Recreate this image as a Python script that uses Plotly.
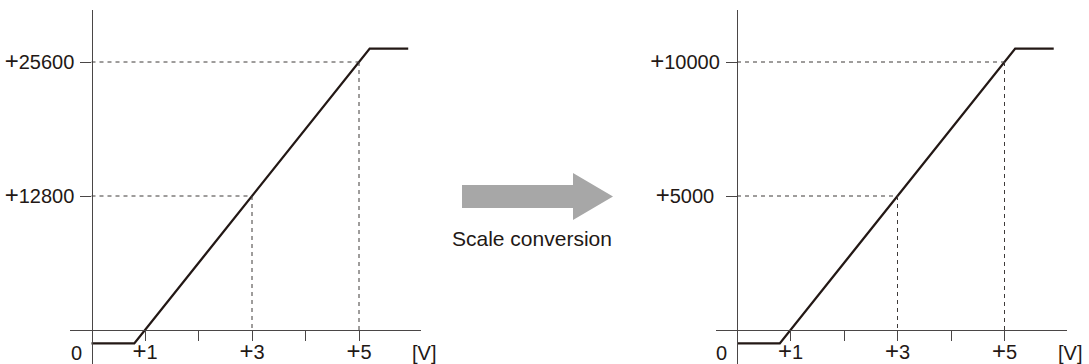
import plotly.graph_objects as go

# ---------------- data ----------------
volts_in = [0, 0.8, 5.2, 5.92]            # input voltage breakpoints [V]
digital_left = [-1280, -1280, 26880, 26880]  # before scale conversion
digital_right = [-500, -500, 10500, 10500]   # after scale conversion

x_tick_vals = [1, 2, 3, 4, 5]
x_tick_text = ["+1", "", "+3", "", "+5"]

left_ref_vals = [12800, 25600]
left_ref_text = ["+12800", "+25600"]
right_ref_vals = [5000, 10000]
right_ref_text = ["+5000\u00a0", "+10000"]
ref_volts = [3, 5]

# ---------------- layout helpers (pixels) ----------------
W, H = 1089, 364
FONT = "Arial, 'Liberation Sans', Helvetica, sans-serif"
INK = "#231815"
AX = "#4a4646"
DASH = "#3e3a39"
px_per_v = 53.5
y_zero_px = 330
y_top_px = 10
y_ref_px = 62  # pixel of the upper reference value


def big_plus(s):
    if s.startswith("+"):
        return "<span style='font-size:24px'>+</span>" + s[1:]
    return s


fig = go.Figure()

def panel(idx, origin_px, xdom_px, vals, ref_vals, ref_text, zero_label_px):
    xa = "x" if idx == 1 else f"x{idx}"
    ya = "y" if idx == 1 else f"y{idx}"
    top_val = ref_vals[-1]
    per_px = top_val / (y_zero_px - y_ref_px)
    y_rng = [-(H - y_zero_px) * per_px, (y_zero_px - y_top_px) * per_px]
    x_rng = [(xdom_px[0] - origin_px) / px_per_v, (xdom_px[1] - origin_px) / px_per_v]

    fig.add_trace(go.Scatter(x=volts_in, y=vals, mode="lines",
                             line=dict(color=INK, width=2.3),
                             xaxis=xa, yaxis=ya, showlegend=False,
                             hoverinfo="skip"))
    # dashed reference lines
    for v, r in zip(ref_volts, ref_vals):
        fig.add_shape(type="line", xref=xa, yref=ya, x0=0, x1=v, y0=r, y1=r,
                      line=dict(color=DASH, width=1, dash="4px,4px"))
        fig.add_shape(type="line", xref=xa, yref=ya, x0=v, x1=v, y0=r, y1=0,
                      line=dict(color=DASH, width=1, dash="4px,4px"))

    axis_common = dict(showline=True, linecolor=AX, linewidth=1.4,
                       ticks="outside", tickcolor=AX, tickwidth=1.4,
                       showgrid=False, zeroline=False, fixedrange=True,
                       automargin=False,
                       tickfont=dict(family=FONT, size=20, color=INK))
    fig.update_layout(**{
        ("xaxis" if idx == 1 else f"xaxis{idx}"): dict(
            domain=[xdom_px[0] / W, xdom_px[1] / W], range=x_rng,
            anchor="free", position=(H - y_zero_px) / H,
            ticklen=10, tickvals=x_tick_vals,
            ticktext=[big_plus(t) for t in x_tick_text],
            ticklabelstandoff=-6, **axis_common),
        ("yaxis" if idx == 1 else f"yaxis{idx}"): dict(
            domain=[0, (H - y_top_px) / H], range=y_rng,
            anchor="free", position=origin_px / W,
            ticklen=11, tickvals=ref_vals,
            ticktext=[big_plus(t) for t in ref_text],
            ticklabelstandoff=2, **axis_common),
    })
    fig.add_annotation(text="0", xref="paper", yref="paper",
                       x=zero_label_px / W, y=1 - 353 / H, showarrow=False,
                       xanchor="center", yanchor="middle",
                       font=dict(family=FONT, size=20, color=INK))
    fig.add_annotation(text="[V]", xref="paper", yref="paper",
                       x=(origin_px + 332.5) / W, y=1 - 353 / H, showarrow=False,
                       xanchor="center", yanchor="middle",
                       font=dict(family=FONT, size=20, color=INK))

panel(1, 91.5, (70, 421), digital_left, left_ref_vals, left_ref_text, 76)
panel(2, 737, (716, 1067), digital_right, right_ref_vals, right_ref_text, 721.5)

# arrow between the panels (decoration, paper coordinates)
def P(xp, yp):
    return f"{xp / W:.5f},{1 - yp / H:.5f}"

arrow = ("M " + P(462, 185) + " L " + P(573, 185) + " L " + P(573, 173) +
         " L " + P(613, 196.5) + " L " + P(573, 220) + " L " + P(573, 208) +
         " L " + P(462, 208) + " Z")
fig.add_shape(type="path", xref="paper", yref="paper", path=arrow,
              fillcolor="#a7a7a7", line=dict(width=0), layer="below")
fig.add_annotation(text="Scale conversion", xref="paper", yref="paper",
                   x=532 / W, y=1 - 238 / H, showarrow=False,
                   xanchor="center", yanchor="middle",
                   font=dict(family=FONT, size=21, color=INK))

fig.update_layout(width=W, height=H, margin=dict(l=0, r=0, t=0, b=0),
                  paper_bgcolor="white", plot_bgcolor="rgba(0,0,0,0)",
                  showlegend=False)

fig.write_html("out.html", config={"displayModeBar": False},
               post_script="document.body.style.margin='0px';"
                           "document.body.style.padding='0px';"
                           "document.body.style.overflow='hidden';")
